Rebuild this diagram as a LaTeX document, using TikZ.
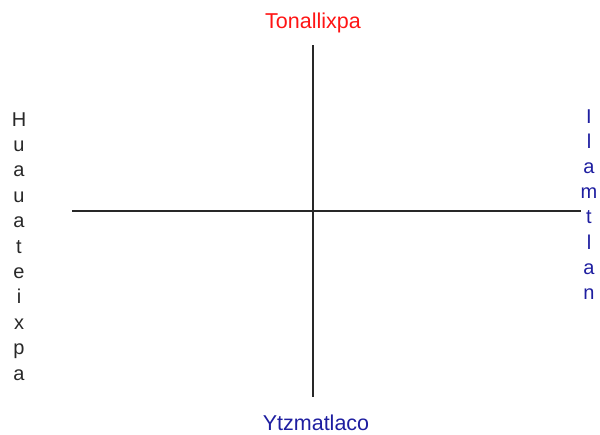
\documentclass[tikz,border=0pt]{standalone}
\usepackage{fontspec}
\setmainfont{Liberation Sans}
\usepackage{tikz}

\definecolor{tonred}{RGB}{255,20,20}
\definecolor{ytzblue}{RGB}{30,30,160}
\definecolor{axisgray}{RGB}{40,40,40}

\tikzset{
  lbl/.style={inner sep=0pt, anchor=base, font=\fontsize{20}{24}\selectfont},
  namelbl/.style={lbl, font=\fontsize{21.5}{24}\selectfont},
  axisline/.style={axisgray, line width=1.3pt}
}

\begin{document}
\begin{tikzpicture}[x=1pt,y=-1pt]
          % --- 1. page frame ---
          \useasboundingbox (0,0) rectangle (600,434);

          % --- 2. axis ends ---
          \coordinate (W) at (72,211);
          \coordinate (E) at (581,211);
          \coordinate (N) at (313,45);
          \coordinate (S) at (313,397);

          % --- 3. the cross ---
          \draw[axisline] (W) -- (E);
          \draw[axisline] (N) -- (S);

          % --- 4. top and bottom names ---
          \node[namelbl, tonred] (tonal) at (313,28) {Tonallixpa};
          \node[namelbl, ytzblue] (ytzm) at (316,430) {Ytzmatlaco};

          % --- 5. left column, one letter a line ---
          \def\dyL{25.4}
          \foreach \c [count=\i] in {H,u,a,u,a,t,e,i,x,p,a}
            \node[lbl, axisgray] (huau\i) at (19,{126+(\i-1)*\dyL}) {\c};

          % --- 6. right column ---
          \def\dyR{25.2}
          \foreach \c [count=\i] in {I,l,a,m,t,l,a,n}
            \node[lbl, ytzblue] (ilam\i) at (589,{123+(\i-1)*\dyR}) {\c};

      \end{tikzpicture}
\end{document}
